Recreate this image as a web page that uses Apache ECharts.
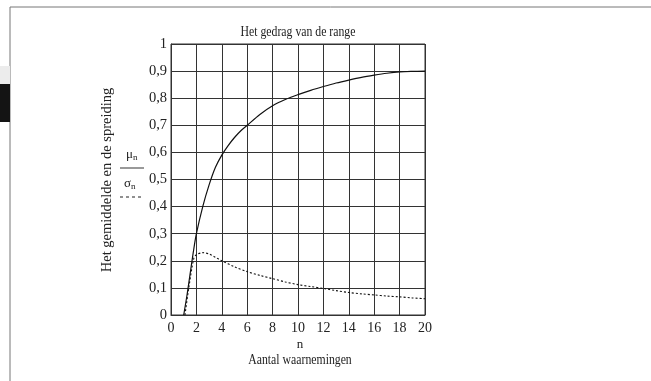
<!DOCTYPE html>
<html>
<head>
<meta charset="utf-8">
<script src="https://cdn.jsdelivr.net/npm/echarts@6/dist/echarts.min.js"></script>
<style>html,body{margin:0;padding:0;background:#fff}#c{width:651px;height:381px}</style>
</head>
<body>
<div id="c"></div>
<script>
// Data
const titleText = 'Het gedrag van de range';
const xAxisName = 'n';
const xAxisSubName = 'Aantal waarnemingen';
const yAxisName = 'Het gemiddelde en de spreiding';
const muN = [1, 1.25, 1.5, 1.75, 2, 2.5, 3, 3.5, 4, 4.5, 5, 5.5, 6, 7, 8, 9, 10, 11, 12, 13, 14, 15, 16, 17, 18, 19, 20];
const muValues = [0, 0.07, 0.15, 0.23, 0.30, 0.40, 0.48, 0.545, 0.59, 0.625, 0.655, 0.68, 0.70, 0.74, 0.772, 0.795, 0.813, 0.829, 0.843, 0.856, 0.867, 0.877, 0.885, 0.892, 0.897, 0.899, 0.9];
const sigmaN = [1.1, 1.4, 1.8, 2.0, 2.5, 3, 3.5, 4, 5, 6, 7, 8, 9, 10, 11, 12, 13, 14, 15, 16, 17, 18, 19, 20];
const sigmaValues = [0, 0.1, 0.21, 0.222, 0.23, 0.225, 0.213, 0.2, 0.178, 0.16, 0.146, 0.134, 0.122, 0.112, 0.105, 0.098, 0.09, 0.083, 0.078, 0.074, 0.07, 0.067, 0.063, 0.06];

const serif = '"Liberation Serif", "DejaVu Serif", serif';
const chart = echarts.init(document.getElementById('c'), null, {renderer: 'canvas'});
const fmt = v => String(Math.round(v * 10) / 10).replace('.', ',');

chart.setOption({
  animation: false,
  backgroundColor: '#fff',
  grid: {left: 171, right: 226, top: 44, bottom: 66, show: true, borderColor: '#333', borderWidth: 1},
  xAxis: {
    type: 'value', min: 0, max: 20, interval: 2,
    axisLine: {show: true, lineStyle: {color: '#333'}},
    axisTick: {show: false},
    axisLabel: {fontFamily: serif, fontSize: 14, color: '#222', margin: 6},
    splitLine: {show: true, lineStyle: {color: '#333', width: 1}}
  },
  yAxis: {
    type: 'value', min: 0, max: 1, interval: 0.1,
    axisLine: {show: true, lineStyle: {color: '#333'}},
    axisTick: {show: false},
    axisLabel: {fontFamily: serif, fontSize: 14.5, color: '#222', margin: 4, formatter: fmt},
    splitLine: {show: true, lineStyle: {color: '#333', width: 1}}
  },
  series: [
    {
      type: 'line', name: 'mu', smooth: 0.3, showSymbol: false,
      data: muN.map((n, i) => [n, muValues[i]]),
      lineStyle: {color: '#111', width: 1.2}
    },
    {
      type: 'line', name: 'sigma', smooth: 0.3, showSymbol: false,
      data: sigmaN.map((n, i) => [n, sigmaValues[i]]),
      lineStyle: {color: '#111', width: 1.1, type: [2, 2]}
    }
  ],
  graphic: [
    {type: 'line', shape: {x1: 10, y1: 7, x2: 651, y2: 7}, style: {stroke: '#777', lineWidth: 1}},
    {type: 'line', shape: {x1: 10, y1: 7, x2: 10, y2: 381}, style: {stroke: '#777', lineWidth: 1}},
    {type: 'rect', shape: {x: 0, y: 66, width: 10, height: 18}, style: {fill: '#ececec'}},
    {type: 'rect', shape: {x: 0, y: 84, width: 10, height: 38}, style: {fill: '#141414'}},
    {type: 'text', x: 298, y: 32, scaleX: 0.84,
      style: {text: titleText, font: '14px ' + serif, fill: '#222', align: 'center', verticalAlign: 'middle'}},
    {type: 'text', x: 107, y: 180, rotation: Math.PI / 2,
      style: {text: yAxisName, font: '14.5px ' + serif, fill: '#222', align: 'center', verticalAlign: 'middle'}},
    {type: 'text', x: 300, y: 345,
      style: {text: xAxisName, font: '13px ' + serif, fill: '#222', align: 'center', verticalAlign: 'middle'}},
    {type: 'text', x: 300, y: 360, scaleX: 0.84,
      style: {text: xAxisSubName, font: '14px ' + serif, fill: '#222', align: 'center', verticalAlign: 'middle'}},
    {type: 'text', x: 126, y: 148,
      style: {text: '{a|μ}{b|n}', fill: '#222', rich: {a: {fontFamily: serif, fontSize: 13, fill: '#222'}, b: {fontFamily: serif, fontSize: 9, fill: '#222', verticalAlign: 'bottom', padding: [5, 0, 0, 0]}}}},
    {type: 'line', shape: {x1: 120, y1: 168, x2: 144, y2: 168}, style: {stroke: '#555', lineWidth: 1.2}},
    {type: 'text', x: 124, y: 177,
      style: {text: '{a|σ}{b|n}', fill: '#222', rich: {a: {fontFamily: serif, fontSize: 13, fill: '#222'}, b: {fontFamily: serif, fontSize: 9, fill: '#222', verticalAlign: 'bottom', padding: [5, 0, 0, 0]}}}},
    {type: 'line', shape: {x1: 120, y1: 197, x2: 144, y2: 197}, style: {stroke: '#222', lineWidth: 1, lineDash: [3, 3]}}
  ]
});
</script>
</body>
</html>
